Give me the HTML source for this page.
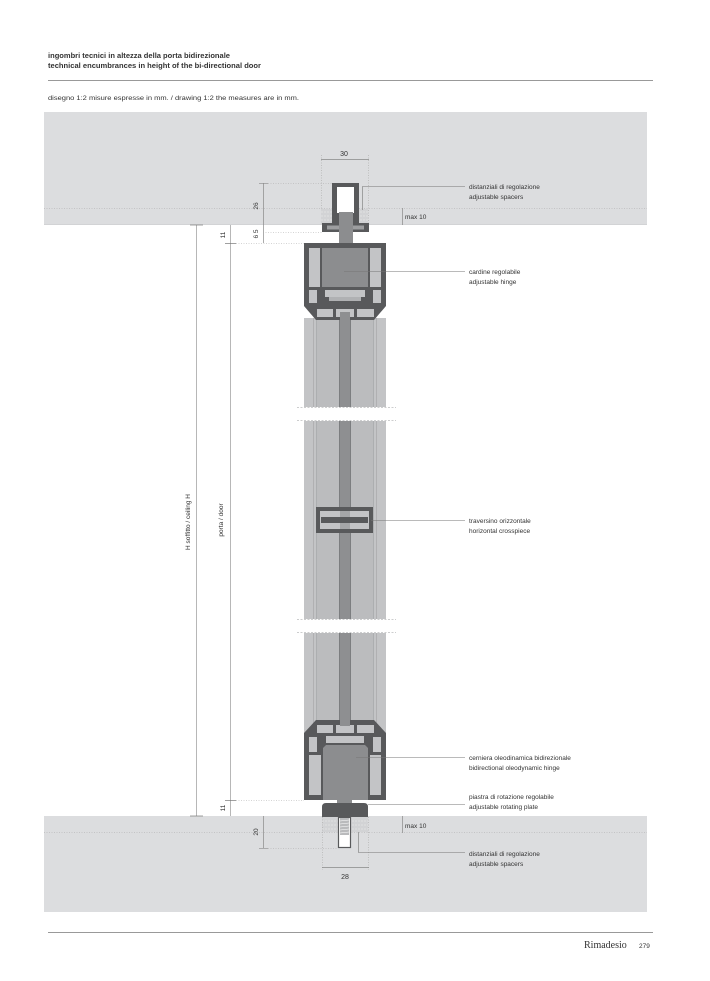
<!DOCTYPE html>
<html><head><meta charset="utf-8"><style>
html,body{margin:0;padding:0;background:#fff;}
svg{display:block;}
text{font-family:"Liberation Sans",sans-serif;fill:#333;}
</style></head><body>
<svg width="710" height="981" viewBox="0 0 710 981" xmlns="http://www.w3.org/2000/svg">
<!-- header -->
<text x="48" y="58" font-size="7" font-weight="bold" fill="#222" textLength="182" lengthAdjust="spacingAndGlyphs">ingombri tecnici in altezza della porta bidirezionale</text>
<text x="48" y="68" font-size="7" font-weight="bold" fill="#222" textLength="213" lengthAdjust="spacingAndGlyphs">technical encumbrances in height of the bi-directional door</text>
<line x1="48" y1="80.5" x2="653" y2="80.5" stroke="#777" stroke-width="0.8"/>
<text x="48" y="100" font-size="6.5" fill="#333" textLength="251" lengthAdjust="spacingAndGlyphs">disegno 1:2 misure espresse in mm. / drawing 1:2 the measures are in mm.</text>

<!-- ceiling and floor -->
<rect x="44" y="112" width="603" height="113" fill="#dcdddf"/>
<rect x="44" y="816" width="603" height="96" fill="#dcdddf"/>
<line x1="44" y1="208.5" x2="647" y2="208.5" stroke="#a9aaac" stroke-width="0.6" stroke-dasharray="1,1.5"/>
<line x1="44" y1="832.5" x2="647" y2="832.5" stroke="#a9aaac" stroke-width="0.6" stroke-dasharray="1,1.5"/>
<line x1="44" y1="224.5" x2="647" y2="224.5" stroke="#c8c9cb" stroke-width="0.6"/>

<!-- left dimension lines -->
<line x1="196.5" y1="225" x2="196.5" y2="816" stroke="#999" stroke-width="0.7"/>
<line x1="230.5" y1="225" x2="230.5" y2="816" stroke="#999" stroke-width="0.7"/>
<line x1="190" y1="225" x2="203" y2="225" stroke="#777" stroke-width="0.7"/>
<line x1="190" y1="816" x2="203" y2="816" stroke="#777" stroke-width="0.7"/>
<line x1="225" y1="243.5" x2="236" y2="243.5" stroke="#777" stroke-width="0.7"/>
<line x1="236" y1="243.5" x2="304" y2="243.5" stroke="#aaa" stroke-width="0.6" stroke-dasharray="1,1.5"/>
<line x1="225" y1="800.5" x2="236" y2="800.5" stroke="#777" stroke-width="0.7"/>
<line x1="236" y1="800.5" x2="304" y2="800.5" stroke="#aaa" stroke-width="0.6" stroke-dasharray="1,1.5"/>
<text transform="translate(190,522) rotate(-90)" font-size="6.5" text-anchor="middle">H soffitto / ceiling H</text>
<text transform="translate(223,520) rotate(-90)" font-size="6.5" text-anchor="middle">porta / door</text>
<text transform="translate(225,235) rotate(-90)" font-size="6.5" text-anchor="middle">11</text>
<text transform="translate(225,808) rotate(-90)" font-size="6.5" text-anchor="middle">11</text>

<!-- top dims -->
<line x1="263.5" y1="183" x2="263.5" y2="243" stroke="#888" stroke-width="0.7"/>
<line x1="259" y1="183.5" x2="268" y2="183.5" stroke="#888" stroke-width="0.6"/>
<line x1="268" y1="183.5" x2="332" y2="183.5" stroke="#aaa" stroke-width="0.6" stroke-dasharray="1,1.5"/>
<line x1="263" y1="232.5" x2="322" y2="232.5" stroke="#aaa" stroke-width="0.6" stroke-dasharray="1,1.5"/>
<text transform="translate(258,206) rotate(-90)" font-size="6.5" text-anchor="middle">26</text>
<text transform="translate(258,234) rotate(-90)" font-size="6.5" text-anchor="middle">6 5</text>
<line x1="321.5" y1="155" x2="321.5" y2="224" stroke="#aaa" stroke-width="0.6" stroke-dasharray="1,1.5"/>
<line x1="368.5" y1="155" x2="368.5" y2="224" stroke="#aaa" stroke-width="0.6" stroke-dasharray="1,1.5"/>
<line x1="321" y1="159.5" x2="369" y2="159.5" stroke="#888" stroke-width="0.7"/>
<text x="344" y="156" font-size="7" text-anchor="middle">30</text>
<line x1="402.5" y1="208" x2="402.5" y2="225" stroke="#888" stroke-width="0.7"/>
<text x="405" y="219" font-size="6.5">max 10</text>

<!-- top spacer / channel -->
<g>
<rect x="321" y="209" width="47" height="15" fill="#d2d3d5"/>
<line x1="321" y1="212" x2="368" y2="212" stroke="#eee" stroke-width="0.6" stroke-dasharray="2,1"/>
<line x1="321" y1="216" x2="368" y2="216" stroke="#eee" stroke-width="0.6" stroke-dasharray="2,1"/>
<line x1="321" y1="220" x2="368" y2="220" stroke="#eee" stroke-width="0.6" stroke-dasharray="2,1"/>
<rect x="332" y="183" width="27" height="41" fill="#58595b"/>
<rect x="337" y="187" width="17" height="26" fill="#fff"/>
<rect x="322" y="223" width="47" height="9" fill="#58595b"/>
<rect x="327" y="225.5" width="37" height="4" fill="#9d9ea0"/>
<rect x="339" y="212" width="14" height="37" fill="#8c8d8f"/>
</g>

<!-- door panel body -->
<rect x="304" y="318" width="82" height="416" fill="#c3c4c6"/>
<rect x="316" y="318" width="23" height="416" fill="#bbbcbe"/>
<rect x="351" y="318" width="23" height="416" fill="#bbbcbe"/>
<g stroke="#a3a4a6" stroke-width="0.6">
<line x1="313.5" y1="318" x2="313.5" y2="734"/>
<line x1="316.5" y1="318" x2="316.5" y2="734"/>
<line x1="373.5" y1="318" x2="373.5" y2="734"/>
<line x1="376.5" y1="318" x2="376.5" y2="734"/>
</g>
<rect x="339.5" y="311" width="11" height="416" fill="#8e8f91" stroke="#727375" stroke-width="0.8"/>

<!-- breaks -->
<rect x="294" y="407" width="104" height="14" fill="#fff"/>
<line x1="297" y1="407.5" x2="396" y2="407.5" stroke="#9a9b9d" stroke-width="0.6" stroke-dasharray="2,1.5"/>
<line x1="297" y1="420.5" x2="396" y2="420.5" stroke="#9a9b9d" stroke-width="0.6" stroke-dasharray="2,1.5"/>
<rect x="294" y="619" width="104" height="14" fill="#fff"/>
<line x1="297" y1="619.5" x2="396" y2="619.5" stroke="#9a9b9d" stroke-width="0.6" stroke-dasharray="2,1.5"/>
<line x1="297" y1="632.5" x2="396" y2="632.5" stroke="#9a9b9d" stroke-width="0.6" stroke-dasharray="2,1.5"/>

<!-- crosspiece -->
<rect x="318" y="509" width="53" height="22" fill="#c3c4c6" stroke="#58595b" stroke-width="4"/>
<rect x="340" y="511" width="10" height="18" fill="#a5a6a8"/>
<rect x="321" y="517" width="47" height="6" fill="#58595b"/>

<!-- top housing -->
<polygon points="304,243 386,243 386,306 374,320 316,320 304,306" fill="#58595b"/>
<rect x="309" y="248" width="11" height="39" fill="#c3c4c6"/>
<rect x="370" y="248" width="11" height="39" fill="#c3c4c6"/>
<rect x="322" y="248" width="46" height="39" fill="#8c8d8f"/>
<rect x="325" y="290" width="40" height="7" fill="#c3c4c6"/>
<rect x="329" y="297" width="32" height="4" fill="#b0b1b3"/>
<rect x="309" y="290" width="8" height="13" fill="#c3c4c6"/>
<rect x="373" y="290" width="8" height="13" fill="#c3c4c6"/>
<rect x="317" y="309" width="16" height="8" fill="#c3c4c6"/>
<rect x="336" y="309" width="18" height="8" fill="#c3c4c6"/>
<rect x="357" y="309" width="17" height="8" fill="#c3c4c6"/>
<rect x="340" y="312" width="10" height="8" fill="#8e8f91"/>

<!-- bottom housing -->
<polygon points="316,720 374,720 386,733 386,800 304,800 304,733" fill="#58595b"/>
<rect x="317" y="725" width="16" height="8" fill="#c3c4c6"/>
<rect x="336" y="725" width="18" height="8" fill="#c3c4c6"/>
<rect x="357" y="725" width="17" height="8" fill="#c3c4c6"/>
<rect x="340" y="718" width="10" height="8" fill="#8e8f91"/>
<rect x="326" y="736" width="38" height="7" fill="#c3c4c6"/>
<rect x="309" y="737" width="8" height="15" fill="#c3c4c6"/>
<rect x="373" y="737" width="8" height="15" fill="#c3c4c6"/>
<rect x="309" y="755" width="12" height="40" fill="#c3c4c6"/>
<rect x="370" y="755" width="11" height="40" fill="#c3c4c6"/>
<polygon points="326,745 365,745 368,748 368,800 323,800 323,748" fill="#8c8d8f"/>

<!-- bottom plate and screw -->
<rect x="322" y="817" width="46" height="15" fill="#d2d3d5"/>
<line x1="322" y1="821" x2="368" y2="821" stroke="#eee" stroke-width="0.6" stroke-dasharray="2,1"/>
<line x1="322" y1="825" x2="368" y2="825" stroke="#eee" stroke-width="0.6" stroke-dasharray="2,1"/>
<line x1="322" y1="829" x2="368" y2="829" stroke="#eee" stroke-width="0.6" stroke-dasharray="2,1"/>
<rect x="337" y="798" width="15" height="6" fill="#8c8d8f"/>
<path d="M322,817 L322,807 Q322,803 326,803 L364,803 Q368,803 368,807 L368,817 Z" fill="#58595b"/>
<rect x="338.5" y="817.5" width="12" height="30" fill="#fff" stroke="#58595b" stroke-width="1.2"/>
<rect x="340" y="818" width="9" height="17" fill="#b9babc"/>
<g stroke="#fff" stroke-width="0.6">
<line x1="340" y1="821" x2="349" y2="820"/><line x1="340" y1="824" x2="349" y2="823"/>
<line x1="340" y1="827" x2="349" y2="826"/><line x1="340" y1="830" x2="349" y2="829"/>
<line x1="340" y1="833" x2="349" y2="832"/>
</g>

<!-- bottom dims -->
<line x1="263.5" y1="816" x2="263.5" y2="848" stroke="#888" stroke-width="0.7"/>
<line x1="259" y1="848.5" x2="268" y2="848.5" stroke="#888" stroke-width="0.6"/>
<line x1="268" y1="848.5" x2="338" y2="848.5" stroke="#aaa" stroke-width="0.6" stroke-dasharray="1,1.5"/>
<text transform="translate(258,832) rotate(-90)" font-size="6.5" text-anchor="middle">20</text>
<line x1="322.5" y1="817" x2="322.5" y2="870" stroke="#aaa" stroke-width="0.6" stroke-dasharray="1,1.5"/>
<line x1="368.5" y1="817" x2="368.5" y2="870" stroke="#aaa" stroke-width="0.6" stroke-dasharray="1,1.5"/>
<line x1="322" y1="867.5" x2="369" y2="867.5" stroke="#888" stroke-width="0.7"/>
<text x="345" y="879" font-size="7" text-anchor="middle">28</text>
<line x1="402.5" y1="816" x2="402.5" y2="833" stroke="#888" stroke-width="0.7"/>
<text x="405" y="828" font-size="6.5">max 10</text>

<!-- leaders -->
<g stroke="#777" stroke-width="0.6" fill="none">
<polyline points="362.5,210 362.5,186.5 465,186.5"/>
<line x1="344" y1="271.5" x2="465" y2="271.5"/>
<line x1="371" y1="520.5" x2="465" y2="520.5"/>
<line x1="356" y1="757.5" x2="465" y2="757.5"/>
<line x1="368" y1="804.5" x2="465" y2="804.5"/>
<polyline points="358.5,832 358.5,852.5 465,852.5"/>
</g>
<g font-size="6.5">
<text x="469" y="189">distanziali di regolazione</text>
<text x="469" y="199">adjustable spacers</text>
<text x="469" y="274">cardine regolabile</text>
<text x="469" y="284">adjustable hinge</text>
<text x="469" y="523">traversino orizzontale</text>
<text x="469" y="533">horizontal crosspiece</text>
<text x="469" y="760">cerniera oleodinamica bidirezionale</text>
<text x="469" y="770">bidirectional oleodynamic hinge</text>
<text x="469" y="799">piastra di rotazione regolabile</text>
<text x="469" y="809">adjustable rotating plate</text>
<text x="469" y="856">distanziali di regolazione</text>
<text x="469" y="866">adjustable spacers</text>
</g>

<!-- footer -->
<line x1="48" y1="932.5" x2="653" y2="932.5" stroke="#777" stroke-width="0.8"/>
<text x="584" y="948" font-size="10" style="font-family:'Liberation Serif',serif" fill="#222">Rimadesio</text>
<text x="639" y="948" font-size="6.5" fill="#333">279</text>
</svg>
</body></html>
